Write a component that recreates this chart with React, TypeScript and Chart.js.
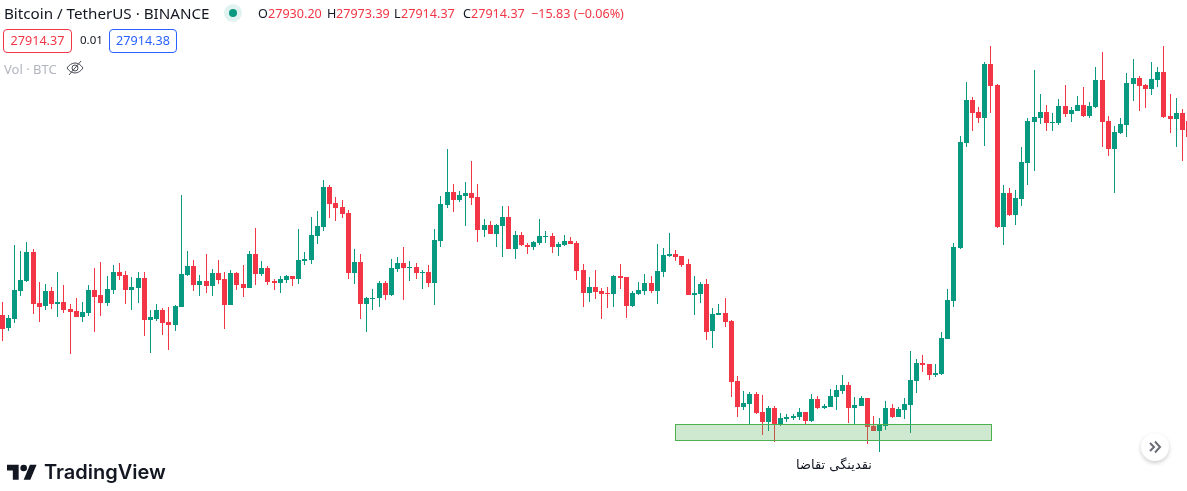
import React, { useEffect, useRef } from "react";
import { Chart, registerables } from "chart.js";

Chart.register(...registerables);

const opens = [27140,27088,27124,27236,27276,27392,27188,27176,27236,27184,27192,27164,27156,27132,27148,27240,27220,27188,27240,27312,27300,27240,27248,27288,27120,27124,27160,27112,27100,27172,27300,27336,27260,27276,27256,27308,27284,27180,27308,27264,27248,27384,27304,27328,27276,27268,27280,27296,27284,
27356,27360,27456,27492,27652,27588,27572,27548,27308,27352,27184,27204,27208,27268,27220,27324,27348,27328,27332,27308,27312,27268,27436,27580,27632,27600,27616,27628,27612,27480,27500,27464,27496,27532,27404,27460,27420,27412,27428,27452,27456,27412,27420,27436,27428,27320,27228,27252,
27236,27228,27224,27296,27292,27176,27224,27236,27268,27236,27312,27376,27384,27376,27344,27220,27224,27264,27076,27140,27148,27116,26876,26772,26784,26824,26752,26712,26768,26700,26724,26728,26732,26752,26716,26804,26768,26772,26812,26836,26860,26768,26776,26808,26696,26676,26696,
26768,26732,26760,26780,26876,26948,26944,26900,26904,27044,27196,27408,27828,28000,27952,27928,28144,28060,27492,27628,27540,27604,27748,27912,27928,27952,27908,27908,27976,27944,27956,27980,27936,27972,28080,27916,27804,27868,27900,28064,28088,28060,28044,28080,28112,27936,27924,27948,27916];
const closes = [27084,27128,27240,27280,27392,27184,27172,27236,27184,27192,27160,27152,27132,27152,27240,27212,27188,27244,27312,27296,27240,27252,27288,27120,27132,27160,27108,27100,27176,27304,27336,27260,27276,27256,27308,27280,27180,27308,27260,27248,27384,27304,27328,27272,27268,27284,27296,27284,27360,
27364,27460,27496,27652,27584,27568,27544,27308,27352,27184,27208,27208,27268,27220,27328,27348,27328,27332,27308,27312,27268,27440,27584,27632,27600,27620,27628,27608,27480,27500,27464,27500,27532,27404,27460,27420,27412,27432,27456,27456,27412,27424,27436,27424,27316,27228,27252,27232,
27224,27224,27296,27288,27176,27228,27240,27268,27236,27316,27380,27384,27372,27340,27220,27228,27264,27072,27144,27148,27112,26872,26772,26788,26824,26748,26712,26768,26700,26728,26732,26736,26752,26716,26804,26768,26776,26816,26840,26860,26768,26780,26808,26692,26676,26700,26768,
26732,26764,26784,26880,26948,26940,26900,26908,27048,27200,27412,27832,28000,27948,27928,28144,28056,27492,27628,27540,27608,27752,27916,27932,27952,27908,27912,27976,27944,27960,27980,27936,27976,28080,27912,27804,27872,27904,28068,28088,28056,28044,28084,28112,27932,27924,27948,27880,27852];
const highs = [27192,27140,27420,27396,27432,27404,27272,27264,27252,27312,27260,27184,27208,27192,27260,27328,27352,27296,27340,27348,27316,27292,27312,27312,27160,27184,27168,27172,27180,27620,27396,27360,27300,27384,27324,27360,27312,27320,27312,27340,27396,27488,27356,27336,27284,27296,27300,27296,27484,
27392,27532,27556,27680,27660,27612,27600,27560,27404,27384,27212,27244,27276,27276,27364,27372,27412,27356,27348,27320,27340,27484,27616,27804,27664,27636,27672,27756,27664,27524,27516,27504,27576,27576,27476,27472,27428,27436,27524,27476,27468,27432,27460,27452,27436,27344,27292,27320,
27248,27252,27300,27344,27292,27236,27272,27304,27296,27424,27408,27468,27400,27376,27364,27296,27272,27284,27168,27184,27208,27120,26896,26836,26832,26832,26820,26776,26776,26748,26744,26744,26768,26752,26824,26816,26784,26844,26860,26900,26872,26812,26816,26808,26736,26728,26796,
26784,26772,26808,26996,26964,26980,26944,26944,27072,27244,27428,27856,28072,28012,27972,28152,28216,28064,27660,27648,27640,27812,27928,28120,28024,27980,27948,28004,28060,27972,28016,28052,27992,28132,28192,27936,27896,27928,28108,28164,28096,28064,28152,28132,28216,28024,28008,27964,27916];
const lows = [27036,27076,27108,27216,27272,27144,27112,27160,27164,27132,27148,26984,27132,27112,27136,27072,27136,27176,27224,27280,27184,27160,27188,27056,26988,27116,27060,27000,27076,27172,27296,27236,27216,27228,27216,27264,27084,27180,27240,27212,27248,27260,27296,27260,27240,27228,27268,27256,27264,
27340,27344,27424,27476,27528,27516,27528,27284,27264,27124,27072,27160,27172,27200,27216,27312,27200,27276,27284,27244,27252,27180,27412,27568,27552,27592,27496,27580,27432,27452,27464,27412,27372,27404,27364,27416,27384,27400,27420,27428,27388,27376,27416,27424,27280,27172,27192,27204,
27124,27168,27172,27244,27128,27172,27220,27220,27228,27184,27292,27372,27356,27332,27220,27140,27188,27040,27008,27140,27092,26812,26732,26760,26704,26744,26660,26676,26632,26696,26712,26720,26720,26704,26712,26764,26764,26772,26760,26824,26708,26704,26776,26624,26676,26592,26680,
26728,26732,26724,26668,26828,26912,26880,26892,26900,27044,27172,27404,27812,27876,27908,27816,27948,27488,27420,27536,27500,27576,27660,27716,27904,27876,27876,27900,27932,27912,27956,27932,27928,27968,27812,27776,27628,27864,27852,27996,27956,27968,28020,28052,27928,27868,27812,27756,27852];

const zoneStart = 108.96;
const zoneEnd = 160.0;
const zoneLow = 26640;
const zoneHigh = 26704;

const indexes = opens.map((_, i) => i);
const UP = "#089981";
const DOWN = "#F23645";
const candleColours = opens.map((o, i) => (closes[i] >= o ? UP : DOWN));

const snapPlugin = {
  id: "snap",
  beforeDatasetsDraw(chart: any) {
    chart.data.datasets.forEach((_: any, d: number) => {
      chart.getDatasetMeta(d).data.forEach((el: any) => {
        el.x = Math.floor(el.x) + 0.5;
        const top = Math.round(Math.min(el.y, el.base));
        let bottom = Math.round(Math.max(el.y, el.base));
        if (bottom - top < 1) bottom = top + 1;
        el.y = top;
        el.base = bottom;
      });
    });
  },
};

const zonePlugin = {
  id: "zone",
  afterDatasetsDraw(chart: any) {
    const { ctx, scales } = chart;
    const x0 = Math.round(scales.x.getPixelForValue(zoneStart)) + 0.5;
    const x1 = Math.round(scales.x.getPixelForValue(zoneEnd)) + 0.5;
    const y0 = Math.round(scales.y.getPixelForValue(zoneHigh)) + 0.5;
    const y1 = Math.round(scales.y.getPixelForValue(zoneLow)) + 0.5;
    ctx.save();
    ctx.fillStyle = "rgba(76,175,80,0.27)";
    ctx.fillRect(x0, y0, x1 - x0, y1 - y0);
    ctx.strokeStyle = "#4CAF50";
    ctx.lineWidth = 1;
    ctx.strokeRect(x0, y0, x1 - x0, y1 - y0);
    ctx.restore();
  },
};

const FONT = '"Noto Sans", sans-serif';

function T(props: { x: number; y: number; c: string; s?: number; children: any; f?: string; w?: number; ls?: number }) {
  return (
    <div
      style={{
        position: "absolute",
        left: props.x,
        top: props.y,
        color: props.c,
        fontSize: props.s ?? 12.6,
        fontFamily: props.f ?? FONT,
        fontWeight: props.w ?? 400,
        letterSpacing: props.ls ?? 0,
        lineHeight: "18px",
        whiteSpace: "nowrap",
      }}
    >
      {props.children}
    </div>
  );
}

export default function App() {
  const ref = useRef<HTMLCanvasElement>(null);
  useEffect(() => {
    const chart = new Chart(ref.current as HTMLCanvasElement, {
      type: "bar",
      data: {
        datasets: [
          {
            label: "wick",
            data: indexes.map((i) => ({ x: i, y: [lows[i], highs[i]] })) as any,
            backgroundColor: candleColours,
            barThickness: 1,
            grouped: false,
            order: 2,
            inflateAmount: 0,
          } as any,
          {
            label: "body",
            data: indexes.map((i) => ({ x: i, y: [opens[i], closes[i]] })) as any,
            backgroundColor: candleColours,
            barThickness: 5,
            grouped: false,
            order: 1,
            inflateAmount: 0,
          } as any,
        ],
      },
      options: {
        responsive: false,
        animation: false,
        events: [],
        layout: { padding: 0 },
        plugins: { legend: { display: false }, tooltip: { enabled: false } },
        scales: {
          x: { type: "linear", min: -0.34, max: 191.73, offset: false, display: false },
          y: { type: "linear", min: 26436, max: 28400, display: false },
        },
      },
      plugins: [snapPlugin, zonePlugin],
    });
    return () => chart.destroy();
  }, []);

  const chip = (x: number, w: number, c: string, label: string) => (
    <div
      style={{
        position: "absolute",
        left: x,
        top: 29,
        width: w,
        height: 22,
        border: `1px solid ${c}`,
        borderRadius: 4,
        color: c,
        fontFamily: FONT,
        fontSize: 12.6,
        lineHeight: "22px",
        textAlign: "center",
      }}
    >
      {label}
    </div>
  );

  return (
    <div style={{ position: "fixed", left: 0, top: 0, width: 1187, height: 491, overflow: "hidden", background: "#fff" }}>
      <canvas ref={ref} width={1187} height={491} style={{ position: "absolute", left: 0, top: 0, display: "block" }} />

      <T x={4} y={4} c="#131722" s={15.2}>Bitcoin / TetherUS · BINANCE</T>
      <div style={{ position: "absolute", left: 224, top: 4, width: 18, height: 18, borderRadius: 9, background: "rgba(8,153,129,0.12)" }} />
      <div style={{ position: "absolute", left: 229, top: 9, width: 8, height: 8, borderRadius: 4, background: "#089981" }} />

      <T x={258} y={5} c="#131722">O</T><T x={268} y={5} c={DOWN}>27930.20</T>
      <T x={327} y={5} c="#131722">H</T><T x={336} y={5} c={DOWN}>27973.39</T>
      <T x={394} y={5} c="#131722">L</T><T x={401} y={5} c={DOWN}>27914.37</T>
      <T x={463} y={5} c="#131722">C</T><T x={471} y={5} c={DOWN}>27914.37</T>
      <T x={531} y={5} c={DOWN}>−15.83 (−0.06%)</T>

      {chip(3, 67, DOWN, "27914.37")}
      <T x={80} y={31} c="#131722" s={11.5}>0.01</T>
      {chip(109, 66, "#2962FF", "27914.38")}

      <T x={4} y={60} c="#B2B5BE" s={13}>Vol · BTC</T>
      <svg style={{ position: "absolute", left: 66, top: 60 }} width="18" height="16" viewBox="0 0 18 16" fill="none" stroke="#4A4D58" strokeWidth="1">
        <path d="M1 8c2-3 5-5 8-5s6 2 8 5c-2 3-5 5-8 5s-6-2-8-5z" />
        <circle cx="9" cy="8" r="3" />
        <path d="M3 15 15 1" />
      </svg>

      <div
        style={{
          position: "absolute",
          left: 776,
          top: 456,
          width: 116,
          textAlign: "center",
          direction: "rtl",
          color: "#131722",
          fontFamily: '"DejaVu Sans", sans-serif',
          fontSize: 13,
          lineHeight: "18px",
        }}
      >
        نقدینگی تقاضا
      </div>

      <svg style={{ position: "absolute", left: 7, top: 461 }} width="30" height="24" viewBox="0 0 36 28" fill="#131722">
        <path d="M14 22H7V11H0V4h14v18zM28 22h-8l7.5-18h8L28 22z" />
        <circle cx="20" cy="8" r="4" />
      </svg>
      <div style={{ position: "absolute", left: 44, top: 459, color: "#131722", fontFamily: "Inter, sans-serif", fontWeight: 600, fontSize: 20, lineHeight: "26px", whiteSpace: "nowrap" }}>
        TradingView
      </div>

      <div style={{ position: "absolute", left: 1141, top: 433, width: 28, height: 28, borderRadius: 14, background: "#fff", boxShadow: "0 2px 4px rgba(0,0,0,0.2)" }} />
      <svg style={{ position: "absolute", left: 1148, top: 440 }} width="14" height="14" viewBox="0 0 14 14" fill="none" stroke="#6A6D78" strokeWidth="2">
        <path d="M2 3l4 4-4 4M7 1.5 12 7l-5 5.5" />
      </svg>
    </div>
  );
}
